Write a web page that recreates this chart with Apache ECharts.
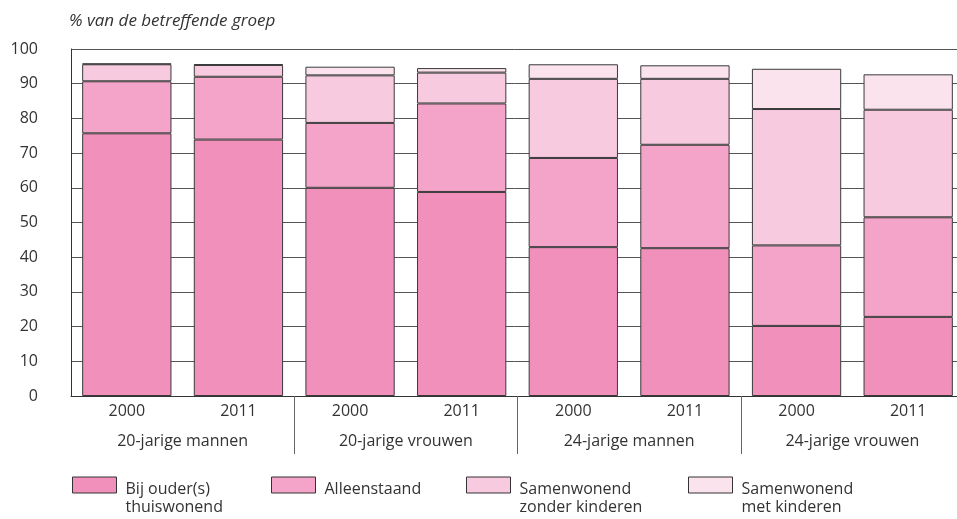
<!DOCTYPE html>
<html>
<head>
<meta charset="utf-8">
<script src="https://cdn.jsdelivr.net/npm/echarts@6/dist/echarts.min.js"></script>
<style>html,body{margin:0;padding:0;background:#fff}#c{width:957px;height:519px}</style>
</head>
<body>
<div id="c"></div>
<script>
var years = ['2000','2011','2000','2011','2000','2011','2000','2011'];
var groups = ['20-jarige mannen','20-jarige vrouwen','24-jarige mannen','24-jarige vrouwen'];
var seriesNames = ['Bij ouder(s) thuiswonend','Alleenstaand','Samenwonend zonder kinderen','Samenwonend met kinderen'];
var legendLines = [['Bij ouder(s)','thuiswonend'],['Alleenstaand',''],['Samenwonend','zonder kinderen'],['Samenwonend','met kinderen']];
var bijOuders = [75.7, 73.9, 60.0, 58.8, 42.9, 42.6, 20.2, 22.8];
var alleenstaand = [15.0, 18.1, 18.7, 25.5, 25.7, 29.8, 23.2, 28.7];
var zonderKinderen = [4.9, 3.4, 13.7, 8.9, 22.8, 19.0, 39.3, 31.0];
var metKinderen = [0.2, 0.2, 2.5, 1.3, 4.2, 3.9, 11.6, 10.2];
var yTicks = [0,10,20,30,40,50,60,70,80,90,100];
var colors = ['#F190BA','#F3A4C8','#F8CADF','#FBE3EE'];

var font = 'Open Sans';
var chart = echarts.init(document.getElementById('c'));
var values = [bijOuders, alleenstaand, zonderKinderen, metKinderen];
var legendLefts = [72, 271, 466, 688];

var option = {
  animation: false,
  textStyle: {fontFamily: font},
  title: {
    text: '% van de betreffende groep',
    left: 64, top: 8,
    textStyle: {fontFamily: font, fontStyle: 'italic', fontWeight: 'normal', fontSize: 17, color: '#333'}
  },
  grid: {left: 71, top: 49, width: 893, height: 347, outerBoundsMode: 'none', containLabel: false},
  legend: seriesNames.map(function (n, i) {
    return {
      data: [n], left: legendLefts[i], top: 459, padding: 0,
      icon: 'rect',
      itemWidth: 44, itemHeight: 16,
      selectedMode: false,
      itemStyle: {borderColor: '#333', borderWidth: 1},
      formatter: function () {
        var l = legendLines[i];
        return '{p| }\n{a|' + l[0] + '}\n{a|' + (l[1] || ' ') + '}';
      },
      textStyle: {fontFamily: font, fontSize: 16, color: '#333',
        rich: {
          p: {lineHeight: 26, fontSize: 16, fontFamily: font},
          a: {lineHeight: 18, fontSize: 16, color: '#333', fontFamily: font, padding: [0, 0, 0, 4]}
        }}
    };
  }),
  xAxis: [{
    type: 'category', data: years, position: 'bottom',
    axisLine: {lineStyle: {color: '#333', width: 1}},
    axisTick: {show: false},
    axisLabel: {color: '#333', fontSize: 16, margin: 7, fontFamily: font}
  }, {
    type: 'category', data: groups, position: 'bottom',
    axisLine: {show: false},
    axisTick: {show: true, length: 58, lineStyle: {color: '#666'}, interval: function (idx) { return idx !== 0; }},
    axisLabel: {color: '#333', fontSize: 16, margin: 37, fontFamily: font}
  }],
  yAxis: {
    type: 'value', min: 0, max: 100, interval: 10,
    axisLine: {show: true, lineStyle: {color: '#333'}},
    axisTick: {show: false},
    axisLabel: {color: '#333', fontSize: 16, margin: 33, fontFamily: font,
      formatter: function (v) { return yTicks.indexOf(v) >= 0 ? String(v) : ''; }},
    splitLine: {show: true, lineStyle: {color: '#555', width: 1}}
  },
  series: values.map(function (d, i) {
    return {
      name: seriesNames[i], type: 'bar', stack: 'total', xAxisIndex: 0,
      data: d, barCategoryGap: '20%',
      itemStyle: {color: colors[i], borderColor: '#3a3a3a', borderWidth: 1}
    };
  })
};
chart.setOption(option);
</script>
</body>
</html>
